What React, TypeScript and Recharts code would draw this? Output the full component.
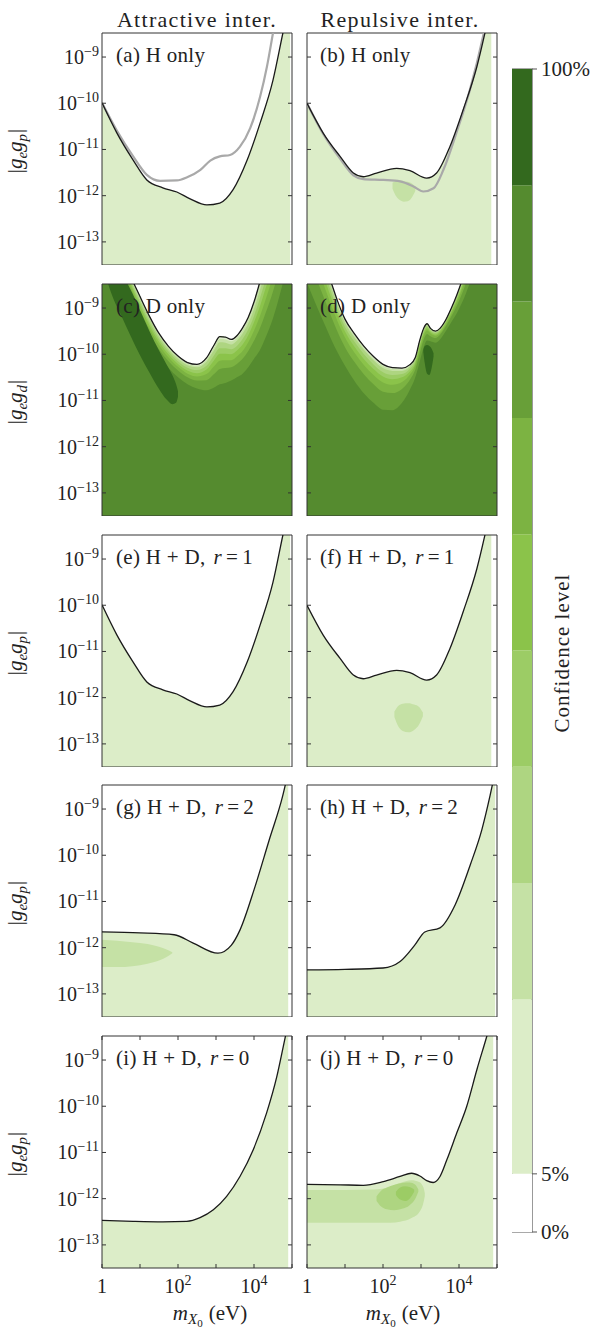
import React from "react";
import {
  Area,
  Bar,
  BarChart,
  ComposedChart,
  Line,
  ReferenceArea,
  XAxis,
  YAxis,
} from "recharts";

const FONT = "'Liberation Serif', 'Times New Roman', serif";
const INK = "#222";
const FRAME = "#333";

// axes: x is log10(m / eV), y is log10|g g|
const X_DOMAIN = [0, 5];
const Y_MIN = -13.5;
const Y_MAX = -8.48;
const X_TICKS = [0, 1, 2, 3, 4, 5];
const Y_TICKS = [-13, -12, -11, -10, -9];
const X_LABELED = [0, 2, 4];

// confidence bands of the colour bar
const LEVELS = [0, 5, 20, 30, 40, 50, 60, 70, 80, 90, 100];
const BAND_COLORS = [
  "#ffffff", "#dcedc8", "#c5e1a5", "#aed581", "#9ccc65",
  "#8bc34a", "#7cb342", "#689f38", "#558b2f", "#33691e",
];

const ROW_TOPS = [33, 284, 535, 785, 1036];
const PLOT_H = 232;

// (a) / (e) attractive, H only
const A_X = [0, 0.39, 0.82, 1.18, 1.6, 1.97, 2.32, 2.76, 3.1, 3.45, 3.82, 4.16, 4.5, 4.76, 4.95];
const A_G = [-9.99, -10.64, -11.23, -11.66, -11.83, -11.92, -12.07, -12.2, -12.16, -11.87, -11.23, -10.43, -9.5, -8.48, -7.75];
const A_GREY_X = [0, 0.39, 0.82, 1.18, 1.53, 1.97, 2.24, 2.59, 2.85, 3.1, 3.37, 3.63, 3.9, 4.16, 4.34, 4.5, 4.65];
const A_GREY_G = [-9.99, -10.59, -11.15, -11.55, -11.68, -11.67, -11.6, -11.44, -11.24, -11.15, -11.12, -10.94, -10.54, -9.86, -9.21, -8.48, -7.8];

// (b) / (f) repulsive, H only
const B_X = [0, 0.43, 0.87, 1.22, 1.48, 1.83, 2.36, 2.71, 3.15, 3.41, 3.76, 4.11, 4.47, 4.68, 4.85];
const B_G = [-10.0, -10.65, -11.15, -11.51, -11.59, -11.51, -11.41, -11.46, -11.62, -11.51, -10.94, -10.14, -9.21, -8.49, -7.85];
const B_GREY_X = [0, 0.43, 0.87, 1.22, 1.48, 2.01, 2.45, 2.8, 3.06, 3.33, 3.59, 3.94, 4.29, 4.64, 4.8];
const B_GREY_G = [-10.0, -10.67, -11.2, -11.56, -11.64, -11.66, -11.69, -11.8, -11.91, -11.84, -11.44, -10.62, -9.7, -8.53, -7.9];
const B_BLOB_X = [2.25, 2.35, 2.45, 2.55, 2.65, 2.75, 2.85];
const B_BLOB_LO = [-11.85, -12.02, -12.1, -12.13, -12.12, -12.05, -11.9];
const B_BLOB_HI = [-11.72, -11.68, -11.67, -11.68, -11.7, -11.73, -11.8];
const F_BLOB_X = [2.3, 2.4, 2.52, 2.67, 2.82, 2.95, 3.05];
const F_BLOB_LO = [-12.42, -12.62, -12.72, -12.75, -12.7, -12.58, -12.4];
const F_BLOB_HI = [-12.3, -12.18, -12.13, -12.12, -12.15, -12.2, -12.32];

// (c) attractive, D only
const C_X = [0, 0.4, 0.6, 0.8, 1.0, 1.25, 1.5, 1.75, 2.0, 2.25, 2.5, 2.75, 2.95, 3.1, 3.25, 3.4, 3.55, 3.7, 3.85, 4.0, 4.15, 4.3, 4.5, 4.7, 5.0];
const C_G = [-7.0, -7.7, -8.05, -8.4, -8.75, -9.18, -9.55, -9.83, -10.04, -10.18, -10.22, -10.08, -9.8, -9.62, -9.63, -9.68, -9.6, -9.43, -9.2, -8.87, -8.45, -8.0, -7.4, -6.8, -6.0];
const C_L80 = [-7.0, -8.0, -8.45, -8.88, -9.3, -9.72, -10.05, -10.3, -10.5, -10.65, -10.74, -10.78, -10.72, -10.65, -10.62, -10.57, -10.5, -10.42, -10.28, -10.1, -9.92, -9.65, -9.22, -8.65, -7.6];
const C_L70 = [-7.0, -7.9, -8.32, -8.73, -9.12, -9.55, -9.89, -10.15, -10.35, -10.5, -10.57, -10.56, -10.43, -10.32, -10.3, -10.28, -10.21, -10.1, -9.93, -9.71, -9.45, -9.12, -8.64, -8.06, -7.09];
const C_L60 = [-7.0, -7.85, -8.25, -8.64, -9.03, -9.45, -9.8, -10.07, -10.27, -10.42, -10.48, -10.43, -10.26, -10.14, -10.13, -10.13, -10.05, -9.93, -9.74, -9.49, -9.19, -8.83, -8.31, -7.73, -6.8];
const C_L50 = [-7.0, -7.81, -8.19, -8.57, -8.95, -9.37, -9.73, -10.0, -10.21, -10.35, -10.41, -10.33, -10.13, -9.99, -9.99, -10.0, -9.92, -9.79, -9.59, -9.31, -8.98, -8.59, -8.06, -7.47, -6.58];
const C_L40 = [-7.0, -7.77, -8.15, -8.52, -8.88, -9.31, -9.67, -9.94, -10.15, -10.29, -10.34, -10.25, -10.02, -9.87, -9.87, -9.89, -9.82, -9.67, -9.46, -9.17, -8.8, -8.4, -7.84, -7.24, -6.38];
const C_L30 = [-7.0, -7.74, -8.1, -8.46, -8.82, -9.24, -9.61, -9.89, -10.1, -10.24, -10.28, -10.16, -9.91, -9.74, -9.75, -9.79, -9.71, -9.55, -9.33, -9.02, -8.63, -8.2, -7.62, -7.02, -6.19];
const C_L20 = [-7.0, -7.72, -8.07, -8.42, -8.78, -9.21, -9.58, -9.85, -10.06, -10.2, -10.25, -10.12, -9.85, -9.67, -9.68, -9.72, -9.65, -9.48, -9.25, -8.93, -8.52, -8.08, -7.49, -6.89, -6.08];
const C_BLOB_X = [0.15, 0.3, 0.5, 0.75, 1.0, 1.25, 1.5, 1.7, 1.85, 1.95, 2.0];
const C_BLOB_LO = [-8.45, -8.8, -9.15, -9.6, -10.02, -10.4, -10.75, -10.98, -11.08, -11.05, -10.92];
const C_BLOB_HI = [-8.3, -8.3, -8.3, -8.6, -9.05, -9.5, -9.92, -10.22, -10.45, -10.65, -10.8];

// (d) repulsive, D only
const D_X = [0, 0.25, 0.5, 0.65, 0.8, 1.0, 1.25, 1.5, 1.75, 2.0, 2.25, 2.5, 2.7, 2.85, 2.97, 3.08, 3.16, 3.25, 3.38, 3.5, 3.65, 3.8, 3.95, 4.1, 4.3, 4.6, 5.0];
const D_G = [-6.9, -7.5, -8.1, -8.48, -8.84, -9.24, -9.56, -9.83, -10.05, -10.22, -10.29, -10.3, -10.23, -10.07, -9.69, -9.42, -9.34, -9.44, -9.5, -9.44, -9.26, -9.0, -8.7, -8.35, -7.8, -7.0, -6.0];
const D_L80 = [-8.45, -8.95, -9.42, -9.7, -9.95, -10.25, -10.58, -10.85, -11.05, -11.2, -11.21, -11.05, -10.78, -10.5, -10.15, -9.82, -9.7, -9.72, -9.75, -9.68, -9.5, -9.3, -9.1, -8.85, -8.42, -7.6, -6.5];
const D_L70 = [-7.83, -8.37, -8.89, -9.21, -9.51, -9.85, -10.17, -10.44, -10.65, -10.81, -10.84, -10.75, -10.56, -10.33, -9.97, -9.66, -9.56, -9.61, -9.65, -9.58, -9.4, -9.18, -8.94, -8.65, -8.17, -7.36, -6.3];
const D_L60 = [-7.52, -8.08, -8.63, -8.97, -9.28, -9.64, -9.97, -10.24, -10.45, -10.61, -10.66, -10.6, -10.45, -10.24, -9.87, -9.58, -9.48, -9.55, -9.6, -9.54, -9.36, -9.12, -8.86, -8.55, -8.05, -7.24, -6.2];
const D_L50 = [-7.32, -7.89, -8.46, -8.81, -9.14, -9.51, -9.84, -10.11, -10.32, -10.48, -10.54, -10.5, -10.38, -10.19, -9.81, -9.53, -9.44, -9.52, -9.57, -9.5, -9.32, -9.08, -8.81, -8.49, -7.97, -7.16, -6.14];
const D_L40 = [-7.16, -7.75, -8.32, -8.69, -9.03, -9.41, -9.73, -10.0, -10.22, -10.39, -10.45, -10.43, -10.32, -10.14, -9.77, -9.49, -9.4, -9.49, -9.54, -9.48, -9.3, -9.05, -8.77, -8.44, -7.91, -7.1, -6.09];
const D_L30 = [-7.02, -7.62, -8.21, -8.58, -8.93, -9.32, -9.64, -9.91, -10.13, -10.3, -10.36, -10.36, -10.27, -10.1, -9.73, -9.45, -9.37, -9.46, -9.52, -9.46, -9.28, -9.02, -8.73, -8.39, -7.85, -7.05, -6.04];
const D_L20 = [-6.95, -7.55, -8.15, -8.52, -8.88, -9.28, -9.6, -9.87, -10.09, -10.25, -10.32, -10.33, -10.25, -10.09, -9.71, -9.43, -9.35, -9.45, -9.51, -9.45, -9.27, -9.01, -8.71, -8.37, -7.82, -7.02, -6.02];
const D_BLOB_X = [3.06, 3.1, 3.16, 3.22, 3.28, 3.33];
const D_BLOB_LO = [-9.95, -10.2, -10.42, -10.45, -10.3, -10.05];
const D_BLOB_HI = [-9.9, -9.82, -9.8, -9.82, -9.88, -9.98];

// (g) attractive, r = 2
const G_X = [0, 1, 1.9, 2.4, 3.05, 3.4, 3.63, 4.0, 4.4, 4.76, 4.9];
const G_G = [-11.66, -11.68, -11.72, -11.9, -12.12, -11.95, -11.62, -10.75, -9.67, -8.7, -8.2];
const G_BLOB_X = [0, 0.4, 0.8, 1.2, 1.5, 1.7, 1.85];
const G_BLOB_LO = [-12.42, -12.42, -12.4, -12.35, -12.28, -12.2, -12.12];
const G_BLOB_HI = [-11.83, -11.85, -11.88, -11.92, -11.98, -12.04, -12.1];

// (h) repulsive, r = 2
const H_X = [0, 1, 2, 2.45, 2.84, 3.1, 3.5, 3.9, 4.3, 4.6, 4.82, 4.95];
const H_G = [-12.48, -12.47, -12.44, -12.3, -11.94, -11.66, -11.57, -11.07, -10.2, -9.45, -8.7, -8.2];

// (i) attractive, r = 0
const I_X = [0, 0.82, 1.6, 2.23, 2.58, 2.93, 3.28, 3.63, 3.98, 4.33, 4.6, 4.77, 4.9];
const I_G = [-12.47, -12.49, -12.5, -12.49, -12.41, -12.24, -11.95, -11.52, -10.94, -10.15, -9.36, -8.71, -8.2];

// (j) repulsive, r = 0
const J_X = [0, 0.87, 1.48, 2.01, 2.45, 2.75, 2.97, 3.15, 3.32, 3.5, 3.68, 3.94, 4.2, 4.47, 4.73, 4.9];
const J_G = [-11.69, -11.7, -11.71, -11.63, -11.52, -11.45, -11.51, -11.61, -11.65, -11.52, -11.16, -10.58, -10.01, -9.21, -8.49, -8.0];
const J20_X = [0, 1.0, 1.75, 2.2, 2.45, 2.75, 2.95, 3.06, 3.1];
const J20_LO = [-12.52, -12.52, -12.52, -12.52, -12.5, -12.42, -12.3, -12.1, -11.95];
const J20_HI = [-11.81, -11.81, -11.8, -11.74, -11.66, -11.6, -11.64, -11.75, -11.88];
const J30_X = [1.83, 1.95, 2.1, 2.3, 2.5, 2.7, 2.85, 2.93];
const J30_LO = [-12.05, -12.17, -12.23, -12.25, -12.22, -12.14, -12.0, -11.85];
const J30_HI = [-11.95, -11.83, -11.76, -11.7, -11.66, -11.65, -11.7, -11.8];
const J40_X = [2.34, 2.45, 2.58, 2.7, 2.82];
const J40_LO = [-11.92, -12.02, -12.05, -12.0, -11.85];
const J40_HI = [-11.85, -11.76, -11.73, -11.75, -11.8];

type Pt = { x: number; g?: number; v?: [number, number] };
const pts = (xs: number[], gs: number[]): Pt[] => xs.map((x, i) => ({ x, g: gs[i] }));
const span = (xs: number[], lo: number[], hi: number[]): Pt[] =>
  xs.map((x, i) => ({ x, v: [lo[i], hi[i]] }));

type Spec = {
  key: string;
  tag: string;
  r?: string;
  col: 0 | 1;
  row: number;
  yl: string;
  base: string;
  curve: Pt[];
  grey?: Pt[];
  shades: { data: Pt[]; color: string }[];
};

const LIGHT = BAND_COLORS[1];

const bandsOf = (xs: number[], g: number[], bounds: number[][]) =>
  bounds.map((lo, i) => ({ data: span(xs, lo, g), color: BAND_COLORS[7 - i] }));

const PANELS: Spec[] = [
  { key: "a", tag: "(a) H only", col: 0, row: 0, yl: "p", base: LIGHT, curve: pts(A_X, A_G), grey: pts(A_GREY_X, A_GREY_G), shades: [] },
  { key: "b", tag: "(b) H only", col: 1, row: 0, yl: "p", base: LIGHT, curve: pts(B_X, B_G), grey: pts(B_GREY_X, B_GREY_G),
    shades: [{ data: span(B_BLOB_X, B_BLOB_LO, B_BLOB_HI), color: BAND_COLORS[2] }] },
  { key: "c", tag: "(c) D only", col: 0, row: 1, yl: "d", base: BAND_COLORS[8], curve: pts(C_X, C_G),
    shades: [
      ...bandsOf(C_X, C_G, [C_L80, C_L70, C_L60, C_L50, C_L40, C_L30, C_L20]),
      { data: span(C_BLOB_X, C_BLOB_LO, C_BLOB_HI), color: BAND_COLORS[9] },
    ] },
  { key: "d", tag: "(d) D only", col: 1, row: 1, yl: "d", base: BAND_COLORS[8], curve: pts(D_X, D_G),
    shades: [
      ...bandsOf(D_X, D_G, [D_L80, D_L70, D_L60, D_L50, D_L40, D_L30, D_L20]),
      { data: span(D_BLOB_X, D_BLOB_LO, D_BLOB_HI), color: BAND_COLORS[9] },
    ] },
  { key: "e", tag: "(e) H + D,", r: "1", col: 0, row: 2, yl: "p", base: LIGHT, curve: pts(A_X, A_G), shades: [] },
  { key: "f", tag: "(f) H + D,", r: "1", col: 1, row: 2, yl: "p", base: LIGHT, curve: pts(B_X, B_G),
    shades: [{ data: span(F_BLOB_X, F_BLOB_LO, F_BLOB_HI), color: BAND_COLORS[2] }] },
  { key: "g", tag: "(g) H + D,", r: "2", col: 0, row: 3, yl: "p", base: LIGHT, curve: pts(G_X, G_G),
    shades: [{ data: span(G_BLOB_X, G_BLOB_LO, G_BLOB_HI), color: BAND_COLORS[2] }] },
  { key: "h", tag: "(h) H + D,", r: "2", col: 1, row: 3, yl: "p", base: LIGHT, curve: pts(H_X, H_G), shades: [] },
  { key: "i", tag: "(i) H + D,", r: "0", col: 0, row: 4, yl: "p", base: LIGHT, curve: pts(I_X, I_G), shades: [] },
  { key: "j", tag: "(j) H + D,", r: "0", col: 1, row: 4, yl: "p", base: LIGHT, curve: pts(J_X, J_G),
    shades: [
      { data: span(J20_X, J20_LO, J20_HI), color: BAND_COLORS[2] },
      { data: span(J30_X, J30_LO, J30_HI), color: BAND_COLORS[3] },
      { data: span(J40_X, J40_LO, J40_HI), color: BAND_COLORS[4] },
    ] },
];

const MINUS = "\u2212";

function Panel({ s }: { s: Spec }) {
  const left = s.col === 0 ? 0 : 300;
  const width = s.col === 0 ? 300 : 200;
  const yW = s.col === 0 ? 102 : 7;
  const mRight = s.col === 0 ? 8 : 3;
  const last = s.row === 4;
  const xH = last ? 40 : 0;
  const mTop = 10;
  const plotTop = mTop;
  const plotRight = width - mRight;

  const xTick = (p: any) => {
    const { x, y, payload } = p;
    const v = payload.value;
    return (
      <g>
        <line x1={x} x2={x} y1={y} y2={y - 4} stroke={FRAME} />
        <line x1={x} x2={x} y1={plotTop} y2={plotTop + 4} stroke={FRAME} />
        {last && X_LABELED.includes(v) && (
          <text x={x} y={y + 25} textAnchor="middle" fontFamily={FONT} fontSize={20} fill={INK}>
            {v === 0 ? "1" : "10"}
            {v !== 0 && <tspan dy={-8} fontSize={14}>{String(v)}</tspan>}
          </text>
        )}
      </g>
    );
  };

  const yTick = (p: any) => {
    const { x, y, payload } = p;
    return (
      <g>
        <line x1={x} x2={x + 4} y1={y} y2={y} stroke={FRAME} />
        <line x1={plotRight - 4} x2={plotRight} y1={y} y2={y} stroke={FRAME} />
        {s.col === 0 && (
          <text x={x - 3} y={y + 7} textAnchor="end" fontFamily={FONT} fontSize={20} fill={INK}>
            10<tspan dy={-8} fontSize={14}>{MINUS + Math.abs(payload.value)}</tspan>
          </text>
        )}
      </g>
    );
  };

  return (
    <div style={{ position: "absolute", left, top: ROW_TOPS[s.row] - mTop }}>
      <ComposedChart
        width={width}
        height={mTop + PLOT_H + xH}
        margin={{ top: mTop, right: mRight, bottom: 0, left: 0 }}
      >
        <XAxis
          type="number"
          dataKey="x"
          domain={X_DOMAIN}
          ticks={X_TICKS}
          interval={0}
          allowDataOverflow
          height={xH}
          tickSize={0}
          tickMargin={0}
          tickLine={false}
          axisLine={false}
          tick={xTick}
        />
        <YAxis
          type="number"
          domain={[Y_MIN, Y_MAX]}
          ticks={Y_TICKS}
          interval={0}
          allowDataOverflow
          width={yW}
          tickSize={0}
          tickMargin={0}
          tickLine={false}
          axisLine={false}
          tick={yTick}
        />
        <Area
          data={s.curve}
          dataKey="g"
          type="monotone"
          baseValue={-15}
          fill={s.base}
          fillOpacity={1}
          stroke="none"
          isAnimationActive={false}
        />
        {s.shades.map((sh, i) => (
          <Area
            key={i}
            data={sh.data}
            dataKey="v"
            type="monotone"
            fill={sh.color}
            fillOpacity={1}
            stroke="none"
            isAnimationActive={false}
          />
        ))}
        {s.grey && (
          <Line
            data={s.grey}
            dataKey="g"
            type="monotone"
            stroke="#a9a9a9"
            strokeWidth={2.2}
            dot={false}
            isAnimationActive={false}
          />
        )}
        <Line
          data={s.curve}
          dataKey="g"
          type="monotone"
          stroke="#1a1a1a"
          strokeWidth={1.3}
          dot={false}
          isAnimationActive={false}
        />
        <ReferenceArea
          x1={X_DOMAIN[0]}
          x2={X_DOMAIN[1]}
          y1={Y_MIN}
          y2={Y_MAX}
          fill="none"
          stroke={FRAME}
          strokeWidth={1}
          ifOverflow="visible"
        />
      </ComposedChart>
    </div>
  );
}

function ColorBar() {
  const row: Record<string, number | string> = { name: "cb" };
  LEVELS.slice(1).forEach((lv, i) => {
    row["b" + i] = lv - LEVELS[i];
  });
  return (
    <div style={{ position: "absolute", left: 512, top: 54 }}>
      <BarChart
        width={85}
        height={1198}
        data={[row]}
        margin={{ top: 15, right: 0, bottom: 20, left: 0 }}
        barCategoryGap={0}
      >
        <XAxis dataKey="name" hide />
        <YAxis
          orientation="right"
          type="number"
          domain={[0, 100]}
          ticks={[0, 5, 100]}
          interval={0}
          width={65}
          tickSize={5}
          tickMargin={4}
          axisLine={false}
          tickLine={{ stroke: "#555" }}
          tick={{ fill: INK, fontSize: 21, fontFamily: FONT }}
          tickFormatter={(v: number) => `${v}%`}
        />
        {BAND_COLORS.map((c, i) => (
          <Bar key={i} dataKey={"b" + i} stackId="cb" fill={c} isAnimationActive={false} />
        ))}
        <ReferenceArea y1={0} y2={100} fill="none" stroke="#555" strokeWidth={1.2} ifOverflow="visible" />
      </BarChart>
    </div>
  );
}

function Texts() {
  return (
    <svg
      width={597}
      height={1330}
      style={{ position: "absolute", left: 0, top: 0, pointerEvents: "none" }}
      fontFamily={FONT}
      fill={INK}
    >
      <text x={197} y={27} textAnchor="middle" fontSize={22} letterSpacing={1.3}>
        Attractive inter.
      </text>
      <text x={400} y={27} textAnchor="middle" fontSize={22} letterSpacing={1.3}>
        Repulsive inter.
      </text>
      {PANELS.map((s) => (
        <text
          key={s.key}
          x={s.col === 0 ? 116 : 320}
          y={ROW_TOPS[s.row] + 29}
          fontSize={21}
          letterSpacing={0.3}
        >
          {s.tag}
          {s.r && (
            <>
              <tspan dx={8} fontStyle="italic">r</tspan>
              <tspan dx={4}>=</tspan>
              <tspan dx={4}>{s.r}</tspan>
            </>
          )}
        </text>
      ))}
      {PANELS.filter((s) => s.col === 0).map((s) => (
        <text
          key={"yl" + s.key}
          transform={`translate(22, ${ROW_TOPS[s.row] + 118}) rotate(-90)`}
          textAnchor="middle"
          fontSize={21}
        >
          |<tspan fontStyle="italic">g</tspan>
          <tspan fontStyle="italic" fontSize={15} dy={5}>e</tspan>
          <tspan fontStyle="italic" dy={-5}>g</tspan>
          <tspan fontStyle="italic" fontSize={15} dy={5}>{s.yl}</tspan>
          <tspan dy={-5} dx={1}>|</tspan>
        </text>
      ))}
      <text
        transform="translate(569, 653) rotate(-90)"
        textAnchor="middle"
        fontSize={21}
        letterSpacing={1}
      >
        Confidence level
      </text>
      {[210, 403].map((cx) => (
        <text key={cx} x={cx} y={1320} textAnchor="middle" fontSize={21}>
          <tspan fontStyle="italic">m</tspan>
          <tspan fontStyle="italic" fontSize={15} dy={4}>X</tspan>
          <tspan fontSize={11} dy={3}>0</tspan>
          <tspan dy={-7} dx={6}>(eV)</tspan>
        </text>
      ))}
    </svg>
  );
}

export default function App() {
  return (
    <div
      style={{
        position: "absolute",
        left: 0,
        top: 0,
        width: 597,
        height: 1330,
        background: "#fff",
        overflow: "hidden",
      }}
    >
      {PANELS.map((s) => (
        <Panel key={s.key} s={s} />
      ))}
      <ColorBar />
      <Texts />
    </div>
  );
}
